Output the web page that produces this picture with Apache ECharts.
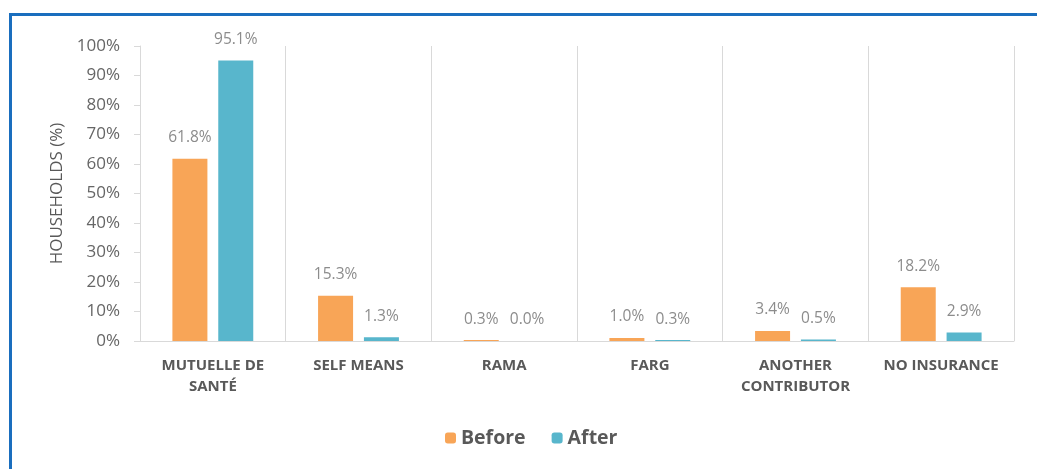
<!DOCTYPE html>
<html>
<head>
<meta charset="utf-8">
<script src="https://cdn.jsdelivr.net/npm/echarts@6/dist/echarts.min.js"></script>
<style>
  html, body { margin: 0; padding: 0; background: #fff; }
  #frame {
    position: absolute; left: 9px; top: 13px; right: 0; bottom: 0;
    border-top: 3px solid #1a6ebe; border-left: 3px solid #1a6ebe;
  }
  #main { position: absolute; left: 0; top: 0; width: 1037px; height: 469px; }
</style>
</head>
<body>
<div id="frame"></div>
<div id="main"></div>
<script>
// categories and values
var categories = ['MUTUELLE DE\nSANTÉ', 'SELF MEANS', 'RAMA', 'FARG', 'ANOTHER\nCONTRIBUTOR', 'NO INSURANCE'];
var before = [61.8, 15.3, 0.3, 1.0, 3.4, 18.2];
var after = [95.1, 1.3, 0.0, 0.3, 0.5, 2.9];

var myChart = echarts.init(document.getElementById('main'));

var labelStyle = {
  show: true,
  position: 'top',
  distance: 13,
  color: '#8c8c8c',
  fontFamily: 'Open Sans',
  fontSize: 15.5,
  formatter: function (p) { return p.value.toFixed(1) + '%'; }
};

myChart.setOption({
  animation: false,
  textStyle: { fontFamily: 'Open Sans' },
  legend: {
    bottom: 16,
    left: 440,
    itemWidth: 11,
    itemHeight: 11,
    itemGap: 26,
    textStyle: { color: '#595959', fontSize: 19.5, fontWeight: 'bold', fontFamily: 'Open Sans' },
    data: ['Before', 'After']
  },
  grid: { left: 140, right: 23, top: 46, bottom: 128 },
  xAxis: {
    type: 'category',
    data: categories,
    axisLine: { lineStyle: { color: '#d9d9d9', width: 1 } },
    axisTick: { show: false },
    splitLine: { show: true, lineStyle: { color: '#d9d9d9', width: 1 } },
    axisLabel: {
      color: '#595959',
      fontSize: 15,
      fontWeight: 'bold',
      fontFamily: 'Open Sans',
      lineHeight: 21,
      margin: 14,
      interval: 0
    }
  },
  yAxis: {
    type: 'value',
    min: 0,
    max: 100,
    interval: 10,
    name: 'HOUSEHOLDS (%)',
    nameLocation: 'middle',
    nameGap: 74,
    nameTextStyle: { color: '#595959', fontSize: 17, fontFamily: 'Open Sans' },
    axisLine: { show: true, lineStyle: { color: '#d9d9d9' } },
    axisTick: { show: true, inside: false, length: 6, lineStyle: { color: '#d9d9d9' } },
    splitLine: { show: false },
    axisLabel: {
      color: '#666666',
      fontSize: 17,
      fontFamily: 'Open Sans',
      margin: 20,
      formatter: '{value}%'
    }
  },
  series: [
    {
      name: 'Before',
      type: 'bar',
      data: before,
      barWidth: 35,
      barGap: '31%',
      itemStyle: { color: '#f8a557' },
      label: labelStyle
    },
    {
      name: 'After',
      type: 'bar',
      data: after,
      barWidth: 35,
      itemStyle: { color: '#58b6cc' },
      label: labelStyle
    }
  ]
});
</script>
</body>
</html>
